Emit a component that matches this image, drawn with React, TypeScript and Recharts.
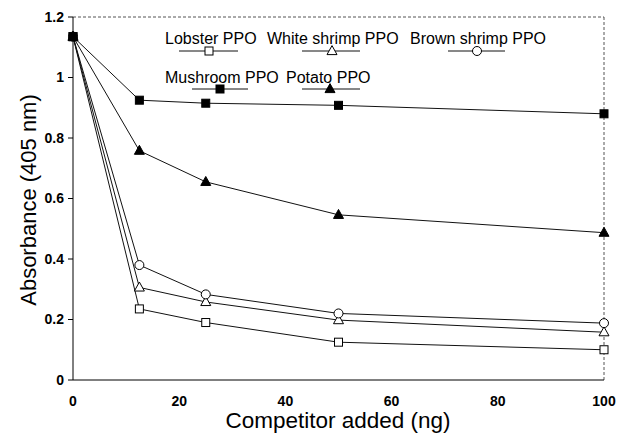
import React from "react";
import { LineChart, Line, XAxis, YAxis, ReferenceLine } from "recharts";

const competitorNg = [0, 12.5, 25, 50, 100];
const lobsterPPO = [1.135, 0.235, 0.19, 0.125, 0.1];
const whiteShrimpPPO = [1.135, 0.306, 0.258, 0.198, 0.158];
const brownShrimpPPO = [1.135, 0.38, 0.283, 0.22, 0.188];
const mushroomPPO = [1.135, 0.925, 0.915, 0.908, 0.88];
const potatoPPO = [1.135, 0.758, 0.655, 0.546, 0.487];

const xTicks = [0, 20, 40, 60, 80, 100];
const yTicks = [0, 0.2, 0.4, 0.6, 0.8, 1, 1.2];

const data = competitorNg.map((x, i) => ({
  x,
  lobster: lobsterPPO[i],
  white: whiteShrimpPPO[i],
  brown: brownShrimpPPO[i],
  mushroom: mushroomPPO[i],
  potato: potatoPPO[i],
}));

const FONT = "'Liberation Sans', Arial, Helvetica, sans-serif";

type Shape = "square" | "triangle" | "circle";

function Marker({ cx, cy, shape, filled }: { cx: number; cy: number; shape: Shape; filled: boolean }) {
  const fill = filled ? "#000" : "#fff";
  if (shape === "square") {
    const s = 8;
    return <rect x={cx - s / 2} y={cy - s / 2} width={s} height={s} fill={fill} stroke="#000" strokeWidth={1} />;
  }
  if (shape === "triangle") {
    const h = 9;
    const w = 10;
    return (
      <polygon
        points={`${cx},${cy - h * 0.6} ${cx - w / 2},${cy + h * 0.4} ${cx + w / 2},${cy + h * 0.4}`}
        fill={fill}
        stroke="#000"
        strokeWidth={1}
      />
    );
  }
  return <circle cx={cx} cy={cy} r={4.5} fill={fill} stroke="#000" strokeWidth={1} />;
}

const makeDot = (shape: Shape, filled: boolean) => (props: any) => {
  const { cx, cy, index } = props;
  if (cx == null || cy == null) return <g key={`d-${index}`} />;
  return (
    <g key={`d-${shape}-${filled}-${index}`}>
      <Marker cx={cx} cy={cy} shape={shape} filled={filled} />
    </g>
  );
};

const series: { key: string; name: string; shape: Shape; filled: boolean }[] = [
  { key: "lobster", name: "Lobster PPO", shape: "square", filled: false },
  { key: "white", name: "White shrimp PPO", shape: "triangle", filled: false },
  { key: "brown", name: "Brown shrimp PPO", shape: "circle", filled: false },
  { key: "mushroom", name: "Mushroom PPO", shape: "square", filled: true },
  { key: "potato", name: "Potato PPO", shape: "triangle", filled: true },
];

const legendItems = [
  { idx: 0, tx: 165, ty: 44, lx1: 179, lx2: 238, ly: 51, mx: 209 },
  { idx: 1, tx: 267, ty: 44, lx1: 302, lx2: 360, ly: 51, mx: 332 },
  { idx: 2, tx: 410, ty: 44, lx1: 448, lx2: 505, ly: 51, mx: 477 },
  { idx: 3, tx: 165, ty: 83, lx1: 192, lx2: 248, ly: 89, mx: 220 },
  { idx: 4, tx: 286, ty: 83, lx1: 302, lx2: 360, ly: 89, mx: 330 },
];

export default function App() {
  return (
    <div style={{ position: "absolute", left: 0, top: 0, width: 618, height: 435, background: "#fff", fontFamily: FONT }}>
      <LineChart width={618} height={435} data={data} margin={{ top: 17, right: 14, bottom: 15, left: 13 }}>
        <XAxis
          dataKey="x"
          type="number"
          domain={[0, 100]}
          ticks={xTicks}
          height={40}
          axisLine={{ stroke: "#000", strokeWidth: 1 }}
          tickLine={false}
          tickMargin={10}
          tick={{ fill: "#000", fontSize: 14, fontWeight: "bold", fontFamily: FONT }}
        />
        <YAxis
          type="number"
          domain={[0, 1.2]}
          ticks={yTicks}
          width={60}
          axisLine={{ stroke: "#000", strokeWidth: 1 }}
          tickLine={{ stroke: "#000" }}
          tickSize={5}
          tickMargin={4}
          tick={{ fill: "#000", fontSize: 14, fontWeight: "bold", fontFamily: FONT }}
        />
        <ReferenceLine y={1.2} stroke="#555" strokeDasharray="3 2" strokeWidth={1} />
        <ReferenceLine x={100} stroke="#555" strokeDasharray="3 2" strokeWidth={1} />
        {series.map((s) => (
          <Line
            key={s.key}
            dataKey={s.key}
            name={s.name}
            type="linear"
            stroke="#111"
            strokeWidth={1}
            dot={makeDot(s.shape, s.filled)}
            activeDot={false}
            isAnimationActive={false}
          />
        ))}
      </LineChart>
      <svg width={618} height={435} style={{ position: "absolute", left: 0, top: 0, pointerEvents: "none" }}>
        {legendItems.map((it) => {
          const s = series[it.idx];
          return (
            <g key={s.key}>
              <text x={it.tx} y={it.ty} fontSize={16} fontFamily={FONT} fill="#000">
                {s.name}
              </text>
              <line x1={it.lx1} x2={it.lx2} y1={it.ly} y2={it.ly} stroke="#111" strokeWidth={1} />
              <Marker cx={it.mx} cy={it.ly} shape={s.shape} filled={s.filled} />
            </g>
          );
        })}
        <text x={338} y={428} textAnchor="middle" fontSize={22.5} fontFamily={FONT} fill="#000">
          Competitor added (ng)
        </text>
        <text
          x={0}
          y={0}
          transform="translate(36,200) rotate(-90)"
          textAnchor="middle"
          fontSize={22}
          fontFamily={FONT}
          fill="#000"
        >
          Absorbance (405 nm)
        </text>
      </svg>
    </div>
  );
}
